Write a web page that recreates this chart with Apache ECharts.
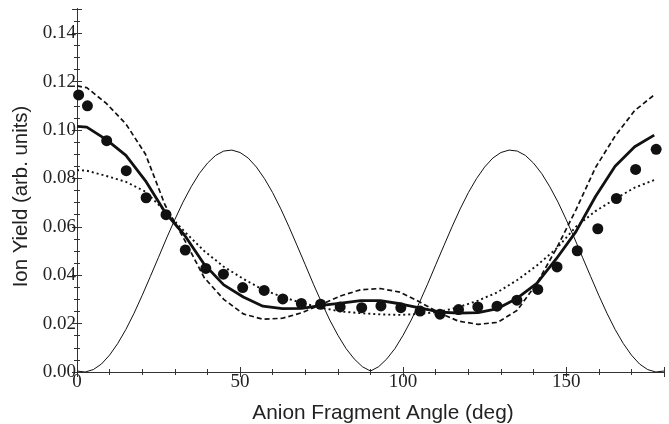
<!DOCTYPE html>
<html>
<head>
<meta charset="utf-8">
<script src="https://cdn.jsdelivr.net/npm/echarts@6/dist/echarts.min.js"></script>
<style>
  html, body { margin: 0; padding: 0; background: #fff; }
  #chart { width: 669px; height: 424px; }
</style>
</head>
<body>
<div id="chart"></div>
<script>
// measured points (filled circles)
const dataAngles = [0.5, 3.2, 9.1, 15.1, 21.2, 27.3, 33.2, 39.5, 44.9, 50.8, 57.4, 63.1, 68.8, 74.7, 80.7,
  87.3, 93.2, 99.3, 105.2, 111.3, 117, 122.9, 128.8, 134.9, 141.3, 147.2, 153.4, 159.7, 165.4, 171.3, 177.6]
const dataYield = [0.1145, 0.110, 0.0956, 0.0832, 0.0720, 0.0650, 0.0504, 0.0428, 0.0404, 0.0349, 0.0337,
  0.0302, 0.0283, 0.0280, 0.0269, 0.0266, 0.0273, 0.0266, 0.0252, 0.0239, 0.0258, 0.0269, 0.0272, 0.0297,
  0.0341, 0.0434, 0.0501, 0.0592, 0.0717, 0.0837, 0.0920]

// model curves share these angles
const modelAngles = [0, 3, 9, 15, 21, 27, 33, 39, 45, 51, 57, 63, 69, 75, 81, 87, 93, 99, 105, 111, 117,
  123, 129, 135, 141, 147, 153, 159, 165, 171, 177]
const thickYield = [0.1015, 0.1012, 0.0960, 0.0895, 0.0790, 0.0660, 0.0565, 0.0445, 0.0360, 0.0310, 0.0272,
  0.0262, 0.0263, 0.0275, 0.0285, 0.0295, 0.0295, 0.0282, 0.0265, 0.0248, 0.0243, 0.0245, 0.0262, 0.0305,
  0.0366, 0.0468, 0.0580, 0.0725, 0.0850, 0.0931, 0.0979]
const dashedYield = [0.1182, 0.1175, 0.1110, 0.1025, 0.0900, 0.0690, 0.0545, 0.0390, 0.0300, 0.0240, 0.0218,
  0.0222, 0.0245, 0.0280, 0.0315, 0.0340, 0.0345, 0.0330, 0.0290, 0.0245, 0.0210, 0.0197, 0.0205, 0.0255,
  0.0366, 0.0510, 0.0670, 0.0845, 0.0975, 0.1080, 0.1145]
const dottedYield = [0.0834, 0.0832, 0.0810, 0.0786, 0.0745, 0.0665, 0.0580, 0.0500, 0.0435, 0.0385, 0.0340,
  0.0310, 0.0285, 0.0265, 0.0250, 0.0243, 0.0238, 0.0236, 0.0240, 0.0248, 0.0268, 0.0295, 0.0330, 0.0380,
  0.0440, 0.0510, 0.0600, 0.0665, 0.0715, 0.0762, 0.0793]

// thin reference curve, every 2.5 degrees
const thinAngles = [0, 2.5, 5, 7.5, 10, 12.5, 15, 17.5, 20, 22.5, 25, 27.5, 30, 32.5, 35, 37.5, 40, 42.5, 45,
  47.5, 50, 52.5, 55, 57.5, 60, 62.5, 65, 67.5, 70, 72.5, 75, 77.5, 80, 82.5, 85, 87.5, 90,
  92.5, 95, 97.5, 100, 102.5, 105, 107.5, 110, 112.5, 115, 117.5, 120, 122.5, 125, 127.5, 130, 132.5, 135,
  137.5, 140, 142.5, 145, 147.5, 150, 152.5, 155, 157.5, 160, 162.5, 165, 167.5, 170, 172.5, 175, 177.5, 180]
const thinYield = [0.0004, 0.0000, 0.0010, 0.0033, 0.0070, 0.0118, 0.0176, 0.0243, 0.0317, 0.0395, 0.0474,
  0.0554, 0.0630, 0.0702, 0.0765, 0.0820, 0.0863, 0.0895, 0.0913, 0.0917, 0.0907, 0.0884, 0.0847, 0.0799,
  0.0741, 0.0674, 0.0600, 0.0522, 0.0443, 0.0363, 0.0287, 0.0215, 0.0152, 0.0097, 0.0054, 0.0022, 0.0004,
  0.0022, 0.0054, 0.0097, 0.0152, 0.0215, 0.0287, 0.0363, 0.0443, 0.0522, 0.0600, 0.0674, 0.0741, 0.0799,
  0.0847, 0.0884, 0.0907, 0.0917, 0.0913, 0.0895, 0.0863, 0.0820, 0.0765, 0.0702, 0.0630, 0.0554, 0.0474,
  0.0395, 0.0317, 0.0243, 0.0176, 0.0118, 0.0070, 0.0033, 0.0010, 0.0000, 0.0004]

const xTicks = [0, 50, 100, 150]
const yTicks = [0, 0.02, 0.04, 0.06, 0.08, 0.10, 0.12, 0.14]

const pairs = (xs, ys) => xs.map((x, i) => [x, ys[i]])

const axisColor = '#333'
const labelFont = { fontFamily: 'Liberation Serif, Times New Roman, serif', fontSize: 19, color: '#222' }

const makeX = (position, interval, tickLen, withLabels) => ({
  type: 'value', position, min: 0, max: 180, interval,
  axisLine: { show: true, lineStyle: { color: axisColor, width: 1 } },
  axisTick: { show: true, inside: true, length: tickLen, lineStyle: { color: axisColor } },
  axisLabel: withLabels ? {
    show: true, margin: 1, ...labelFont,
    formatter: v => (xTicks.includes(v) ? String(v) : '')
  } : { show: false },
  splitLine: { show: false }
})

const makeY = (position, interval, tickLen, withLabels) => ({
  type: 'value', position, min: 0, max: 0.15, interval,
  axisLine: { show: true, lineStyle: { color: axisColor, width: 1 } },
  axisTick: { show: true, inside: true, length: tickLen, lineStyle: { color: axisColor } },
  axisLabel: withLabels ? {
    show: true, margin: 1, ...labelFont,
    formatter: v => (yTicks.some(t => Math.abs(t - v) < 1e-9) ? v.toFixed(2) : '')
  } : { show: false },
  splitLine: { show: false }
})

const chart = echarts.init(document.getElementById('chart'))

const xMain = makeX('bottom', 50, 5, true)
xMain.name = 'Anion Fragment Angle (deg)'
xMain.nameLocation = 'middle'
xMain.nameGap = 31
xMain.nameTextStyle = { fontFamily: 'Liberation Sans, Arial, sans-serif', fontSize: 20.8, color: '#222', padding: [0, 0, 0, 25] }

const yMain = makeY('left', 0.02, 5, true)
yMain.name = 'Ion Yield (arb. units)'
yMain.nameLocation = 'middle'
yMain.nameGap = 37
yMain.nameTextStyle = { fontFamily: 'Liberation Sans, Arial, sans-serif', fontSize: 20.4, color: '#222', padding: [0, 12, 0, 0] }

chart.setOption({
  animation: false,
  backgroundColor: '#fff',
  grid: { left: 77, right: 5, top: 9, bottom: 52, outerBoundsMode: 'none', containLabel: false },
  xAxis: [
    xMain,
    makeX('bottom', 10, 3, false),
    makeX('top', 50, 5, false),
    makeX('top', 10, 3, false)
  ],
  yAxis: [
    yMain,
    makeY('left', 0.005, 3, false),
    makeY('right', 0.02, 5, false),
    makeY('right', 0.005, 3, false)
  ],
  series: [
    {
      name: 'thin', type: 'line', showSymbol: false,
      data: pairs(thinAngles, thinYield),
      lineStyle: { color: '#111', width: 1 }
    },
    {
      name: 'dashed', type: 'line', showSymbol: false,
      data: pairs(modelAngles, dashedYield),
      lineStyle: { color: '#111', width: 1.7, type: [5, 3] }
    },
    {
      name: 'dotted', type: 'line', showSymbol: false,
      data: pairs(modelAngles, dottedYield),
      lineStyle: { color: '#111', width: 1.9, type: [2, 3] }
    },
    {
      name: 'thick', type: 'line', showSymbol: false,
      data: pairs(modelAngles, thickYield),
      lineStyle: { color: '#111', width: 2.8 }
    },
    {
      name: 'data', type: 'scatter', symbol: 'circle', symbolSize: 11,
      data: pairs(dataAngles, dataYield),
      itemStyle: { color: '#111', opacity: 1 }
    }
  ]
})
</script>
</body>
</html>
